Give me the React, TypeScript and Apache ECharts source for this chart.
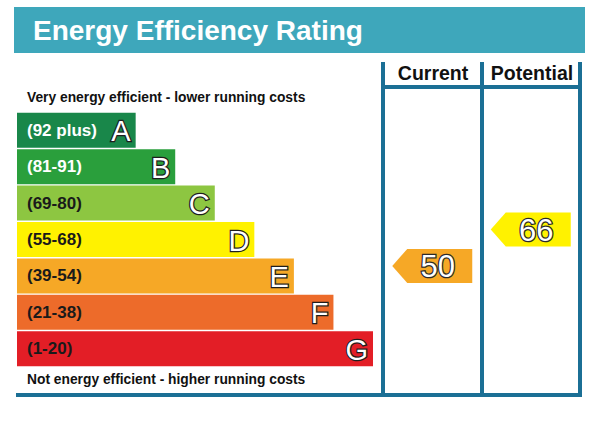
import React, { useEffect, useRef } from "react";
import * as echarts from "echarts";

const title = "Energy Efficiency Rating";
const topNote = "Very energy efficient - lower running costs";
const bottomNote = "Not energy efficient - higher running costs";
const columns = ["Current", "Potential"];
const bandLetters = ["A", "B", "C", "D", "E", "F", "G"];
const bandRanges = ["(92 plus)", "(81-91)", "(69-80)", "(55-68)", "(39-54)", "(21-38)", "(1-20)"];
const bandMin = [92, 81, 69, 55, 39, 21, 1];
const bandLength = [3, 4, 5, 6, 7, 8, 9];
const bandColors = ["#19874a", "#2a9f3c", "#8dc641", "#fff200", "#f6a826", "#ed6b2a", "#e31e26"];
const rangeTextColors = ["#ffffff", "#ffffff", "#1a1a1a", "#1a1a1a", "#1a1a1a", "#1a1a1a", "#1a1a1a"];
const ratings = [50, 66];

const FONT = "'Liberation Sans', Arial, sans-serif";
const LINE = "#1b6f95";

function bandFor(v: number): number {
  for (let i = 0; i < bandMin.length; i++) if (v >= bandMin[i]) return i;
  return bandMin.length - 1;
}

export default function App() {
  const ref = useRef<HTMLDivElement>(null);
  useEffect(() => {
    if (!ref.current) return;
    const chart = echarts.init(ref.current, undefined, { renderer: "svg" });
    const vline = (x: number, y1: number, y2: number) => ({
      type: "line",
      shape: { x1: x, y1, x2: x, y2 },
      style: { stroke: LINE, lineWidth: 4 },
    });
    const hline = (y: number, x1: number, x2: number) => ({
      type: "line",
      shape: { x1, y1: y, x2, y2: y },
      style: { stroke: LINE, lineWidth: 4 },
    });
    const option: any = {
      animation: false,
      backgroundColor: "#ffffff",
      grid: [
        { left: 17, top: 112, width: 356, height: 255 },
        { left: 383, top: 112, width: 197, height: 255 },
      ],
      xAxis: [
        { gridIndex: 0, type: "value", min: 0, max: 9, show: false },
        { gridIndex: 1, type: "category", data: columns, show: false },
      ],
      yAxis: [
        { gridIndex: 0, type: "category", data: bandLetters, inverse: true, show: false },
        { gridIndex: 1, type: "category", data: bandLetters, inverse: true, show: false },
      ],
      series: [
        {
          type: "bar",
          xAxisIndex: 0,
          yAxisIndex: 0,
          barCategoryGap: "4%",
          data: bandLength.map((v, i) => ({
            value: v,
            itemStyle: { color: bandColors[i] },
            label: { color: rangeTextColors[i] },
          })),
          label: {
            show: true,
            position: "insideLeft",
            distance: 10,
            formatter: (p: any) => bandRanges[p.dataIndex],
            fontSize: 17,
            fontWeight: "bold",
            fontFamily: FONT,
          },
        },
        {
          type: "custom",
          xAxisIndex: 0,
          yAxisIndex: 0,
          z: 5,
          clip: false,
          data: bandLength.map((v, i) => [v, i]),
          renderItem: (params: any, api: any) => {
            const c = api.coord([api.value(0), api.value(1)]);
            return {
              type: "group",
              children: [
                {
                  type: "text",
                  x: c[0] - 5,
                  y: c[1] + 1,
                  style: {
                    text: bandLetters[params.dataIndex],
                    fill: "#ffffff",
                    stroke: "#1e1e1e",
                    lineWidth: 2.5,
                    fontSize: 29,
                    fontFamily: FONT,
                    align: "right",
                    verticalAlign: "middle",
                  },
                },
              ],
            };
          },
        },
        {
          type: "custom",
          xAxisIndex: 1,
          yAxisIndex: 1,
          clip: false,
          data: ratings.map((v, i) => [i, bandFor(v), v]),
          renderItem: (params: any, api: any) => {
            const band = api.value(1);
            const val = api.value(2);
            const c = api.coord([api.value(0), band]);
            const h = 34, w = 80, tip = 15;
            const cx = c[0], cy = c[1] - 10;
            const x0 = cx - w / 2, x1 = cx + w / 2;
            return {
              type: "group",
              children: [
                {
                  type: "polygon",
                  shape: {
                    points: [
                      [x0, cy],
                      [x0 + tip, cy - h / 2],
                      [x1, cy - h / 2],
                      [x1, cy + h / 2],
                      [x0 + tip, cy + h / 2],
                    ],
                  },
                  style: { fill: bandColors[band] },
                },
                {
                  type: "text",
                  x: (x0 + tip + x1) / 2 - 2,
                  y: cy + 1,
                  style: {
                    text: String(val),
                    fill: "#ffffff",
                    stroke: "#2a2a2a",
                    lineWidth: 2.5,
                    fontSize: 31,
                    fontFamily: FONT,
                    align: "center",
                    verticalAlign: "middle",
                  },
                },
              ],
            };
          },
        },
      ],
      graphic: [
        { type: "rect", shape: { x: 14, y: 7, width: 571, height: 46 }, style: { fill: "#3ea7bb" } },
        {
          type: "text",
          x: 33,
          y: 30,
          style: { text: title, fill: "#ffffff", fontSize: 28, fontWeight: "bold", fontFamily: FONT, verticalAlign: "middle" },
        },
        {
          type: "text",
          x: 27,
          y: 97,
          style: { text: topNote, fill: "#111111", fontSize: 13.8, fontWeight: "bold", fontFamily: FONT, verticalAlign: "middle" },
        },
        {
          type: "text",
          x: 27,
          y: 379,
          style: { text: bottomNote, fill: "#111111", fontSize: 13.8, fontWeight: "bold", fontFamily: FONT, verticalAlign: "middle" },
        },
        {
          type: "text",
          x: 433,
          y: 73,
          style: { text: columns[0], fill: "#111111", fontSize: 19.5, fontWeight: "bold", fontFamily: FONT, align: "center", verticalAlign: "middle" },
        },
        {
          type: "text",
          x: 532,
          y: 73,
          style: { text: columns[1], fill: "#111111", fontSize: 19.5, fontWeight: "bold", fontFamily: FONT, align: "center", verticalAlign: "middle" },
        },
        vline(383, 62, 397),
        vline(482, 62, 397),
        vline(580, 62, 397),
        hline(87, 383, 580),
        hline(395, 16, 582),
      ],
    };
    chart.setOption(option);
    return () => chart.dispose();
  }, []);
  return <div ref={ref} style={{ position: "fixed", left: 0, top: 0, width: 600, height: 437 }} />;
}
